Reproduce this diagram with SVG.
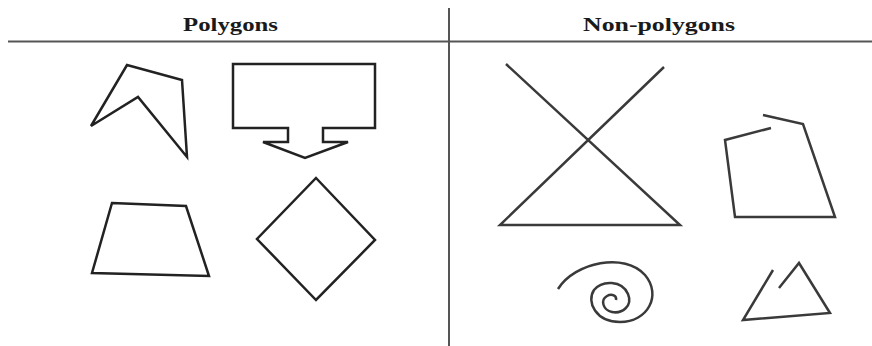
<svg xmlns="http://www.w3.org/2000/svg" width="872" height="346" viewBox="0 0 872 346">
<style>
.hdr{font-family:"Liberation Serif","Times New Roman",serif;font-weight:bold;font-size:19px;fill:#1a1a1a}
.rule{stroke:#555;stroke-width:2;fill:none}
.shp{stroke:#222;stroke-width:2.5;fill:none;stroke-linejoin:miter}
.np{stroke:#3a3a3a;stroke-width:2.5;fill:none}
</style>
<rect width="872" height="346" fill="#fff"/>
<g id="frame">
<line class="rule" x1="8" y1="41.5" x2="872" y2="41.5"/>
<line class="rule" x1="449" y1="8" x2="449" y2="346"/>
<text class="hdr" x="183" y="31" textLength="95" lengthAdjust="spacingAndGlyphs">Polygons</text>
<text class="hdr" x="583" y="31" textLength="152" lengthAdjust="spacingAndGlyphs">Non-polygons</text>
</g>
<g id="concave">
<polygon class="shp" points="91,126 127,65 182,80 187,157 138,97"/>
</g>
<g id="arrowbox">
<polygon class="shp" points="233,64 375,64 375,128 323,128 323,142 348,142 305,158 263,142 288,142 288,128 233,128"/>
</g>
<g id="trapezoid">
<polygon class="shp" points="112,203 186,206 209,276 92,273"/>
</g>
<g id="diamond">
<polygon class="shp" points="316,178 375,240 316,300 257,239"/>
</g>
<g id="cross">
<polyline class="np" points="506,64 680,225 500,225 664,67"/>
</g>
<g id="openpoly">
<polyline class="np" points="771,128 725,140 735,217 835,217 803,124 763,115"/>
</g>
<g id="spiral">
<path class="np" d="M558,289 C575,262 625,252 645,275 C662,295 648,322 620,322 C596,322 586,302 594,290 C602,280 622,280 628,294 C633,306 622,314 612,312 C603,310 600,300 607,296 C612,293 617,296 616,300"/>
</g>
<g id="opentri">
<polyline class="np" points="773,270 743,320 830,313 799,263 779,288"/>
</g>
</svg>
